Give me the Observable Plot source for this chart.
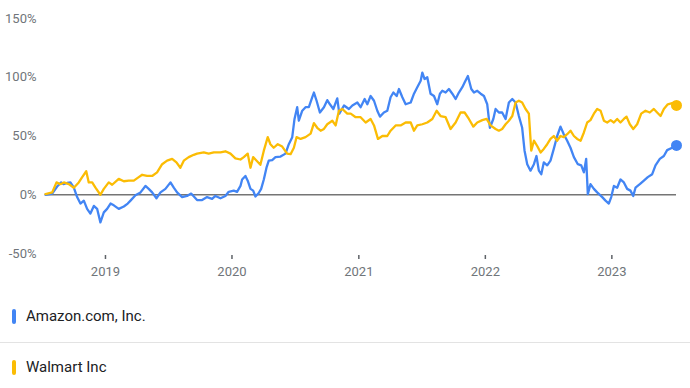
<!DOCTYPE html>
<html>
<head>
<meta charset="utf-8">
<script src="https://cdn.jsdelivr.net/npm/d3@7"></script>
<script src="https://cdn.jsdelivr.net/npm/@observablehq/plot@0.6"></script>
<style>
  html, body { margin: 0; padding: 0; background: #fff; }
  #wrap { width: 690px; font-family: Roboto, "Noto Sans", sans-serif; }
  .row { position: relative; box-sizing: border-box; }
  .bar { position: absolute; left: 12px; width: 4px; height: 15px; border-radius: 2px; }
  .lab { position: absolute; left: 26px; font-size: 15px; color: #202124; line-height: 15px; }
</style>
</head>
<body>
<div id="wrap"></div>
<script>
// Series names and colours
const seriesNames = ["Amazon.com, Inc.", "Walmart Inc"];
const seriesColors = ["#4285f4", "#fbbc04"];

// Amazon: decimal year and % change
const amznYear = [2018.526,2018.579,2018.618,2018.650,2018.668,2018.697,2018.723,2018.750,2018.776,2018.802,2018.829,2018.855,2018.881,2018.908,2018.934,2018.960,2018.987,2019.013,2019.040,2019.066,2019.105,2019.145,2019.176,2019.198,2019.237,2019.277,2019.316,2019.342,2019.369,2019.403,2019.435,2019.474,2019.514,2019.540,2019.566,2019.606,2019.645,2019.677,2019.724,2019.764,2019.803,2019.843,2019.869,2019.909,2019.948,2019.974,2020.014,2020.040,2020.067,2020.080,2020.106,2020.124,2020.146,2020.167,2020.185,2020.211,2020.230,2020.251,2020.272,2020.290,2020.317,2020.343,2020.383,2020.422,2020.448,2020.475,2020.493,2020.514,2020.527,2020.554,2020.580,2020.606,2020.633,2020.646,2020.667,2020.693,2020.725,2020.751,2020.772,2020.799,2020.830,2020.846,2020.883,2020.922,2020.949,2020.988,2021.014,2021.046,2021.067,2021.093,2021.120,2021.146,2021.167,2021.198,2021.225,2021.251,2021.273,2021.299,2021.317,2021.344,2021.370,2021.410,2021.436,2021.462,2021.489,2021.502,2021.520,2021.541,2021.567,2021.594,2021.620,2021.641,2021.660,2021.686,2021.712,2021.739,2021.765,2021.791,2021.818,2021.836,2021.862,2021.889,2021.910,2021.936,2021.963,2021.989,2022.015,2022.036,2022.063,2022.081,2022.107,2022.133,2022.160,2022.186,2022.213,2022.239,2022.265,2022.291,2022.310,2022.331,2022.357,2022.384,2022.404,2022.423,2022.442,2022.462,2022.489,2022.515,2022.541,2022.568,2022.594,2022.620,2022.647,2022.673,2022.700,2022.731,2022.758,2022.779,2022.797,2022.810,2022.831,2022.858,2022.884,2022.924,2022.950,2022.976,2022.995,2023.016,2023.042,2023.068,2023.095,2023.121,2023.147,2023.169,2023.187,2023.221,2023.253,2023.284,2023.319,2023.345,2023.379,2023.411,2023.437,2023.477,2023.511];
const amznPct = [0,1,7,10.5,9,10,10.5,6,-2,-7.5,-5,-12,-16,-9.5,-12,-23.5,-15,-12,-7.5,-9,-12,-10,-7.5,-5,-0.5,2,7.5,5,2,-3,2,5,10.5,6,2,-2,-1,1,-4.5,-4.5,-2,-3.5,-1,-3,-1,2.5,3.5,2.5,7.5,13,16,12,5,3.5,-1.5,1.5,5,13,23,29,29.5,32,32.5,35,43,49,64.5,74.5,63,71.5,74.5,74.5,83,87,80,70,74.5,80.5,77,73,82,69,76,73,76,78.5,74.5,81.5,77,84,80,71.5,66.5,70,71.5,83,87,84,90,83,77,78.5,86,91.5,97,104,98.5,100,86,84,77,86,88.5,87,90,86,81.5,87,91.5,95.5,101,90,87,88.5,86,84,77,57,64.5,73,70,70,64.5,78.5,81.5,78.5,67,57,37.5,26,20.5,26,33,20.5,17.5,27.5,25,29,39,50,58,51.5,46,40,32,26,25,19,30.5,0.5,9,5,2,-2,-5,-7.5,-2,7.5,6,13,10.5,5,3.5,-1,6,9,12,15,17.5,25,30.5,33,38,40,42];

// Walmart: decimal year and % change
const wmtYear = [2018.526,2018.579,2018.613,2018.644,2018.671,2018.710,2018.750,2018.789,2018.816,2018.848,2018.868,2018.895,2018.921,2018.960,2018.987,2019.026,2019.053,2019.105,2019.145,2019.184,2019.224,2019.263,2019.290,2019.329,2019.369,2019.408,2019.448,2019.487,2019.527,2019.561,2019.592,2019.619,2019.658,2019.698,2019.724,2019.777,2019.816,2019.856,2019.909,2019.948,2019.988,2020.027,2020.067,2020.093,2020.124,2020.146,2020.167,2020.185,2020.224,2020.251,2020.282,2020.303,2020.329,2020.361,2020.396,2020.435,2020.462,2020.488,2020.509,2020.541,2020.580,2020.620,2020.646,2020.672,2020.699,2020.725,2020.751,2020.791,2020.817,2020.843,2020.870,2020.909,2020.936,2020.975,2021.014,2021.054,2021.093,2021.120,2021.151,2021.186,2021.225,2021.251,2021.291,2021.330,2021.370,2021.410,2021.436,2021.462,2021.502,2021.541,2021.581,2021.615,2021.646,2021.686,2021.725,2021.765,2021.804,2021.836,2021.870,2021.905,2021.936,2021.976,2022.010,2022.041,2022.081,2022.107,2022.133,2022.160,2022.186,2022.213,2022.239,2022.265,2022.291,2022.318,2022.344,2022.363,2022.384,2022.410,2022.437,2022.462,2022.489,2022.515,2022.541,2022.568,2022.594,2022.620,2022.647,2022.673,2022.700,2022.726,2022.753,2022.779,2022.805,2022.831,2022.858,2022.884,2022.911,2022.937,2022.963,2022.990,2023.016,2023.042,2023.068,2023.095,2023.116,2023.142,2023.169,2023.200,2023.232,2023.266,2023.300,2023.332,2023.358,2023.385,2023.411,2023.442,2023.477,2023.511];
const wmtPct = [0.5,2,10.5,9,10.5,9,6,10.5,15,20,10.5,10.5,6,0,5,10.5,8.5,13.5,11.5,12,12,15,17,16,16,19,26,29,30.5,27.5,23,29,32,34,35,36,35,36,36,37,35,31,30,32,35,23,32,30,25.5,37.5,49,43,40,43,41,35,34.5,40,49,47.5,49,52,61,57,54.5,56,60,63,59,71.5,73,69,69,66,66,61.5,64.5,59,47.5,50,50,54.5,59,59,61.5,61.5,54.5,59,60,61.5,64.5,71.5,67,66,56,61.5,70,70,64.5,58,61.5,63.5,64.5,59,56,54.5,56,60,63,67,78.5,80,78.5,73,69,37.5,46,41.5,36,39,43,47.5,50,46,50,49,51.5,54.5,50,47.5,46,53,61.5,63.5,69,73,71.5,63,61.5,63.5,61.5,64.5,61.5,64.5,66.5,60,56,60,69,71.5,70,73,70,67,73,77,78,76];

// Axis ticks
const yTicks = [-50, 0, 50, 100, 150];
const xTickYears = [2019, 2020, 2021, 2022, 2023];

function yearToDate(t) {
  const y = Math.floor(t);
  const a = Date.UTC(y, 0, 1), b = Date.UTC(y + 1, 0, 1);
  return new Date(a + (t - y) * (b - a));
}

const rows = [];
amznYear.forEach((t, i) => rows.push({series: seriesNames[0], date: yearToDate(t), pct: amznPct[i]}));
wmtYear.forEach((t, i) => rows.push({series: seriesNames[1], date: yearToDate(t), pct: wmtPct[i]}));
const lastPoints = [
  {series: seriesNames[0], date: yearToDate(amznYear[amznYear.length - 1]), pct: amznPct[amznPct.length - 1]},
  {series: seriesNames[1], date: yearToDate(wmtYear[wmtYear.length - 1]), pct: wmtPct[wmtPct.length - 1]}
];

const chart = Plot.plot({
  width: 690,
  height: 285,
  marginLeft: 45,
  marginRight: 14,
  marginTop: 18,
  marginBottom: 32,
  style: {fontFamily: "Roboto, sans-serif", fontSize: "13px", color: "#70757a", background: "#fff"},
  x: {type: "utc", domain: [yearToDate(amznYear[0]), yearToDate(amznYear[amznYear.length - 1])]},
  y: {domain: [-50, 150]},
  color: {domain: seriesNames, range: seriesColors},
  marks: [
    Plot.axisY({ticks: yTicks, tickSize: 0, tickPadding: 9, tickFormat: d => d + "%", label: null, fill: "#70757a"}),
    Plot.axisX({ticks: xTickYears.map(y => yearToDate(y)), tickFormat: d3.utcFormat("%Y"), tickSize: 4, tickPadding: 7, label: null, stroke: "#5f6368", strokeWidth: 1.5, fill: "#70757a", dy: 2}),
    Plot.ruleY([0], {stroke: "#757575", strokeWidth: 1.3}),
    Plot.line(rows, {x: "date", y: "pct", z: "series", stroke: "series", strokeWidth: 2.3, strokeLinejoin: "round"}),
    Plot.dot(lastPoints, {x: "date", y: "pct", fill: "series", r: 5.5})
  ]
});

const wrap = document.getElementById("wrap");
wrap.appendChild(chart);

const legend = document.createElement("div");
const tops = [{h: 58, pad: 24, border: true}, {h: 45, pad: 17, border: false}];
seriesNames.forEach((name, i) => {
  const row = document.createElement("div");
  row.className = "row";
  row.style.height = tops[i].h + "px";
  if (tops[i].border) row.style.borderBottom = "1px solid #e3e3e3";
  const bar = document.createElement("div");
  bar.className = "bar";
  bar.style.top = tops[i].pad + "px";
  bar.style.background = seriesColors[i];
  const lab = document.createElement("div");
  lab.className = "lab";
  lab.style.top = tops[i].pad + "px";
  lab.textContent = name;
  row.appendChild(bar);
  row.appendChild(lab);
  legend.appendChild(row);
});
wrap.appendChild(legend);
</script>
</body>
</html>
